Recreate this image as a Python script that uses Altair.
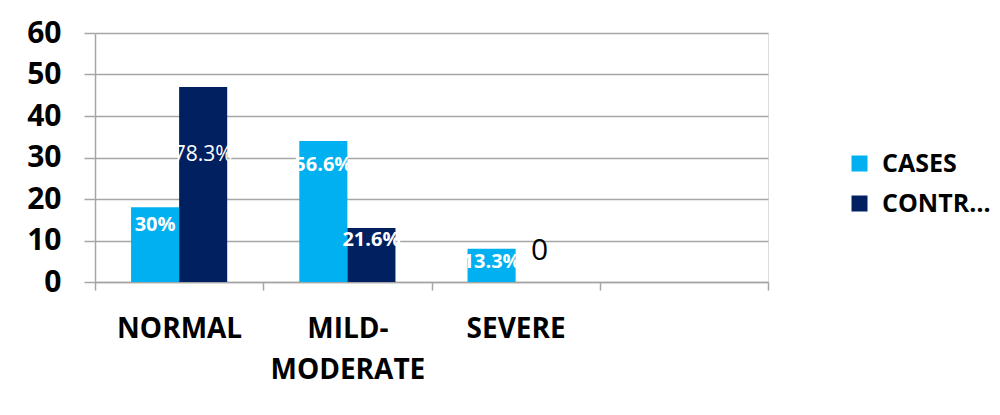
import altair as alt
import pandas as pd

categories = ["NORMAL", "MILD-MODERATE", "SEVERE", " "]
series = ["CASES", "CONTROLS"]
cases = [18, 34, 8]
controls = [47, 13, 0]
cases_labels = ["30%", "56.6%", "13.3%"]
controls_labels = ["78.3%", "21.6%", "0"]
cases_label_at = [13.7, 28.2, 4.8]
controls_label_at = [30.6, 10.1, 7.5]
y_ticks = [0, 10, 20, 30, 40, 50, 60]

rows = []
for i, c in enumerate(categories[:3]):
    rows.append(dict(category=c, series="CASES", value=cases[i],
                     label=cases_labels[i], label_y=cases_label_at[i]))
    rows.append(dict(category=c, series="CONTROLS", value=controls[i],
                     label=controls_labels[i], label_y=controls_label_at[i]))
df = pd.DataFrame(rows)

GRAY = "#a6a6a6"
FONT = "Open Sans"

x_enc = alt.X(
    "category:N",
    sort=categories,
    scale=alt.Scale(domain=categories, paddingInner=0, paddingOuter=0),
    axis=alt.Axis(
        title=None, labelAngle=0, labelFont=FONT, labelFontSize=28,
        labelFontWeight="bold", labelColor="black", labelPadding=25,
        labelLineHeight=41, tickBand="extent", tickSize=8, tickColor=GRAY,
        tickWidth=1.5, domainColor=GRAY, domainWidth=1.5, grid=False,
        labelExpr="split(replace(datum.label, '-', '-|'), '|')",
    ),
)
xoff_enc = alt.XOffset(
    "series:N", sort=series,
    scale=alt.Scale(domain=series, paddingInner=0, paddingOuter=0.75),
)
y_scale = alt.Scale(domain=[0, 60], nice=False)

bars = alt.Chart(df).mark_bar().encode(
    x=x_enc,
    xOffset=xoff_enc,
    y=alt.Y(
        "value:Q", scale=y_scale,
        axis=alt.Axis(
            title=None, values=y_ticks, labelFont=FONT, labelFontSize=30,
            labelFontWeight="bold", labelColor="black", labelPadding=23,
            tickSize=11, tickColor=GRAY, tickWidth=1.5, domainColor=GRAY,
            domainWidth=1.5, grid=True, gridColor=GRAY, gridWidth=1.5,
        ),
    ),
    color=alt.Color(
        "series:N", sort=series,
        scale=alt.Scale(domain=series, range=["#00B0F0", "#002060"]),
        legend=alt.Legend(
            title=None, orient="none", legendX=752, legendY=118,
            symbolType="square", symbolSize=256, symbolStrokeWidth=0,
            labelFont=FONT, labelFontSize=25, labelFontWeight="bold",
            labelColor="black", labelOffset=10, rowPadding=14,
            labelLimit=118, padding=0,
        ),
    ),
)

def text_layer(filter_expr, color, size, weight):
    return alt.Chart(df).transform_filter(filter_expr).mark_text(
        font=FONT, fontSize=size, fontWeight=weight, color=color,
        baseline="middle", align="center",
    ).encode(
        x=alt.X("category:N", sort=categories),
        xOffset=alt.XOffset("series:N", sort=series),
        y=alt.Y("label_y:Q", scale=y_scale),
        text="label:N",
    )

bold_labels = text_layer(
    "datum.value > 0 && !(datum.series == 'CONTROLS' && datum.category == 'NORMAL')",
    "white", 20, "bold")
normal_labels = text_layer(
    "datum.series == 'CONTROLS' && datum.category == 'NORMAL'",
    "white", 21, "normal")
zero_labels = text_layer("datum.value == 0", "black", 30, "normal")

chart = alt.layer(bars, bold_labels, normal_labels, zero_labels).properties(
    width=673, height=249,
    autosize=alt.AutoSizeParams(type="none"),
    padding={"left": 87, "top": 25, "right": 224, "bottom": 125},
).configure_view(stroke=None).configure(background="white")

chart.save("out.html", embed_options={"renderer": "svg", "actions": False})
